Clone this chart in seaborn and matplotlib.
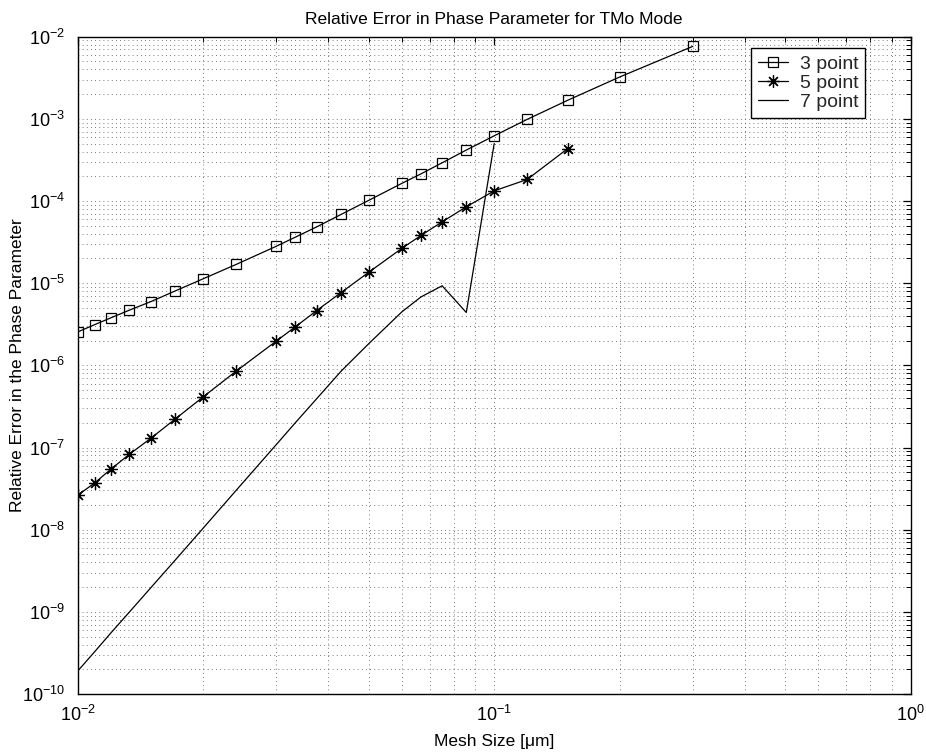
import numpy as np
import pandas as pd
import matplotlib
matplotlib.use("Agg")
import matplotlib.pyplot as plt
import matplotlib.ticker as mticker
import seaborn as sns

# ---- data ----
mesh_3pt = [0.01, 0.011, 0.012, 0.0133, 0.015, 0.0171, 0.02, 0.024, 0.03, 0.0333,
            0.0375, 0.0429, 0.05, 0.06, 0.0667, 0.075, 0.0857, 0.1, 0.12, 0.15, 0.2, 0.3]
err_3pt = [2.55e-6, 3.14e-6, 3.78e-6, 4.69e-6, 5.98e-6, 8.0e-6, 1.13e-5, 1.69e-5, 2.82e-5,
           3.63e-5, 4.85e-5, 6.87e-5, 1.02e-4, 1.64e-4, 2.14e-4, 2.92e-4, 4.17e-4, 6.22e-4,
           9.86e-4, 1.68e-3, 3.23e-3, 7.64e-3]

mesh_5pt = [0.01, 0.011, 0.012, 0.0133, 0.015, 0.0171, 0.02, 0.024, 0.03, 0.0333,
            0.0375, 0.0429, 0.05, 0.06, 0.0667, 0.075, 0.0857, 0.1, 0.12, 0.15]
err_5pt = [2.62e-8, 3.73e-8, 5.42e-8, 8.26e-8, 1.3e-7, 2.2e-7, 4.12e-7, 8.48e-7, 1.98e-6,
           2.94e-6, 4.65e-6, 7.7e-6, 1.36e-5, 2.65e-5, 3.81e-5, 5.58e-5, 8.5e-5, 1.33e-4,
           1.83e-4, 4.33e-4]

mesh_7pt = [0.01, 0.011, 0.012, 0.0133, 0.015, 0.0171, 0.02, 0.024, 0.03, 0.0333,
            0.0375, 0.0429, 0.05, 0.06, 0.0667, 0.075, 0.0857, 0.1]
err_7pt = [1.9e-10, 3.3e-10, 5.5e-10, 9.9e-10, 1.98e-9, 4.2e-9, 1.04e-8, 3.0e-8, 1.09e-7,
           2.0e-7, 3.94e-7, 8.5e-7, 1.84e-6, 4.47e-6, 6.8e-6, 9.3e-6, 4.4e-6, 5.0e-4]

series_labels = ["3 point", "5 point", "7 point"]

title_text = "Relative Error in Phase Parameter for TMo Mode"
xlabel_text = "Mesh Size [\u03bcm]"
ylabel_text = "Relative Error in the Phase Parameter"

# ---- style ----
sns.set_theme(style="white")
plt.rcParams["font.family"] = ["Liberation Sans", "DejaVu Sans"]
plt.rcParams["mathtext.fontset"] = "custom"
plt.rcParams["mathtext.rm"] = "Liberation Sans"
plt.rcParams["mathtext.it"] = "Liberation Sans:italic"
plt.rcParams["mathtext.bf"] = "Liberation Sans:bold"

W, H = 926, 754
fig = plt.figure(figsize=(W / 100, H / 100), dpi=100)
left, right, top, bottom = 77.7, 910.7, 36.7, 694.0
ax = fig.add_axes([left / W, 1 - bottom / H, (right - left) / W, (bottom - top) / H])
ax.set_xscale("log")
ax.set_yscale("log")

lw = 0.9
sns.lineplot(x=mesh_3pt, y=err_3pt, ax=ax, color="black", linewidth=lw,
             marker="s", markersize=7.5, markerfacecolor="none", markeredgecolor="black",
             markeredgewidth=0.9, label=series_labels[0])
sns.lineplot(x=mesh_5pt, y=err_5pt, ax=ax, color="black", linewidth=lw,
             marker=(8, 2, 0), markersize=9, markeredgecolor="black",
             markeredgewidth=0.9, label=series_labels[1])
sns.lineplot(x=mesh_7pt, y=err_7pt, ax=ax, color="black", linewidth=lw,
             label=series_labels[2])

ax.set_xlim(1e-2, 1e0)
ax.set_ylim(1e-10, 1e-2)

ax.xaxis.set_major_locator(mticker.LogLocator(base=10, numticks=20))
ax.yaxis.set_major_locator(mticker.LogLocator(base=10, numticks=20))
ax.xaxis.set_minor_locator(mticker.LogLocator(base=10, subs=np.arange(2, 10), numticks=100))
ax.yaxis.set_minor_locator(mticker.LogLocator(base=10, subs=np.arange(2, 10), numticks=100))
ax.xaxis.set_minor_formatter(mticker.NullFormatter())
ax.yaxis.set_minor_formatter(mticker.NullFormatter())

ax.grid(True, which="both", linestyle=(0, (1, 4)), color="0.3", linewidth=0.6)
ax.tick_params(which="both", direction="in", top=True, right=True, color="black",
               labelsize=13, labelcolor="black")
ax.tick_params(which="major", length=6, width=0.9)
ax.tick_params(which="minor", length=3.5, width=0.7)
ax.tick_params(axis="x", which="major", pad=8)
ax.tick_params(axis="y", which="major", pad=9)

for sp in ax.spines.values():
    sp.set_visible(True)
    sp.set_color("black")
    sp.set_linewidth(1.0)

ax.set_title(title_text, fontsize=12.5, color="black", pad=9)
ax.set_xlabel(xlabel_text, fontsize=12.5, color="black", labelpad=6)
ax.set_ylabel(ylabel_text, fontsize=12.5, color="black", va="center")
ax.yaxis.set_label_coords((18 - left) / (right - left), 0.5)

leg = ax.legend(loc="upper right",
                bbox_to_anchor=((865 - left) / (right - left), 1 - (48.3 - top) / (bottom - top)),
                borderaxespad=0, fancybox=False, frameon=True, fontsize=14,
                handlelength=1.55, handletextpad=0.6, labelspacing=0.08, borderpad=0.35)
leg.get_frame().set_edgecolor("black")
leg.get_frame().set_linewidth(1.0)
leg.get_frame().set_alpha(1)

fig.savefig("out.png", dpi=100)
